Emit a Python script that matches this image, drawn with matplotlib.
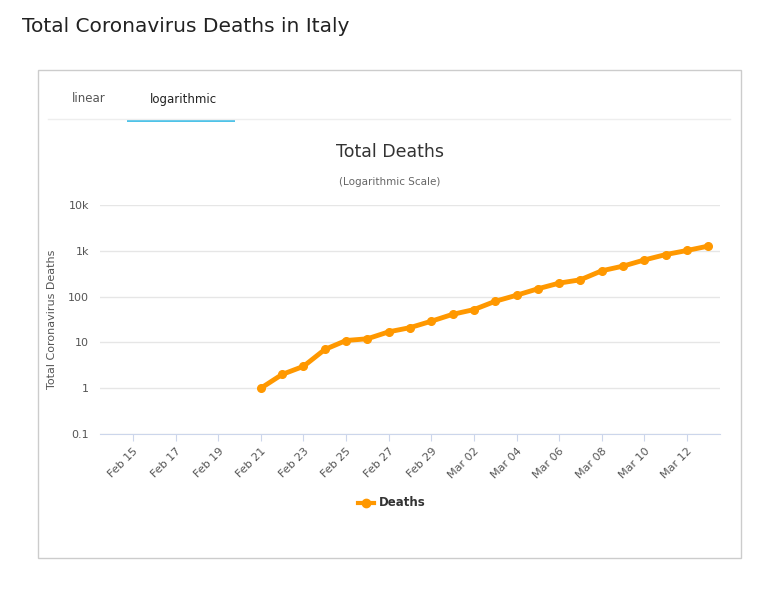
import numpy as np
import pandas as pd
import matplotlib.pyplot as plt
from matplotlib.patches import Rectangle
from matplotlib.lines import Line2D

deaths = [1, 2, 3, 7, 11, 12, 17, 21, 29, 41, 52, 79, 107, 148, 197, 233,
          366, 463, 631, 827, 1016, 1266]
dates = pd.date_range("2020-02-21", periods=len(deaths))
day0 = pd.Timestamp("2020-02-15")
x = np.array([(d - day0).days for d in dates])

W, H = 771, 606
fig = plt.figure(figsize=(W / 100, H / 100), dpi=100)
fig.patch.set_facecolor("white")

fig.text(22 / W, 1 - 27 / H, "Total Coronavirus Deaths in Italy", fontsize=14.5,
         color="#222222", va="center", ha="left")
fig.patches.append(Rectangle((38 / W, 1 - 558 / H), 703 / W, 488 / H, transform=fig.transFigure,
                             fill=False, edgecolor="#cccccc", lw=1))
fig.text(89 / W, 1 - 99 / H, "linear", fontsize=8.5, color="#555555", ha="center", va="center")
fig.text(183 / W, 1 - 99 / H, "logarithmic", fontsize=8.5, color="#222222", ha="center", va="center")
fig.lines.append(Line2D([48 / W, 730 / W], [1 - 119 / H] * 2, transform=fig.transFigure,
                        color="#eeeeee", lw=1))
fig.patches.append(Rectangle((127 / W, 1 - 122 / H), 108 / W, 3 / H, transform=fig.transFigure,
                             facecolor="#4fc3e8", edgecolor="none"))
fig.text(390 / W, 1 - 152 / H, "Total Deaths", fontsize=12.5, color="#333333", ha="center", va="center")
fig.text(390 / W, 1 - 182 / H, "(Logarithmic Scale)", fontsize=7.5, color="#666666", ha="center", va="center")

ax = fig.add_axes([100 / W, 1 - 434 / H, 620 / W, 229 / H])
ax.plot(x, deaths, color="#ff9800", lw=3.5, marker="o", ms=5.5, solid_capstyle="round")
ax.set_yscale("log")
ax.set_ylim(0.1, 10000)
ax.set_xlim(-1.55, 27.55)
ax.set_yticks([0.1, 1, 10, 100, 1000, 10000])
ax.set_yticklabels(["0.1", "1", "10", "100", "1k", "10k"])
ax.minorticks_off()
ticks = np.arange(0, 28, 2)
ax.set_xticks(ticks)
ax.set_xticklabels([(day0 + pd.Timedelta(days=int(t))).strftime("%b %d") for t in ticks],
                   rotation=45, ha="right", rotation_mode="anchor")
ax.tick_params(axis="x", colors="#555555", labelsize=8, length=5, color="#ccd6eb")
ax.tick_params(axis="y", colors="#555555", labelsize=8, length=0, pad=8)
ax.grid(axis="y", color="#e6e6e6", lw=1)
for s in ["top", "right", "left"]:
    ax.spines[s].set_visible(False)
ax.spines["bottom"].set_color("#ccd6eb")
ax.set_ylabel("Total Coronavirus Deaths", fontsize=8, color="#555555", labelpad=8)

fig.lines.append(Line2D([358 / W, 374 / W], [1 - 503 / H] * 2, transform=fig.transFigure,
                        color="#ff9800", lw=3))
fig.lines.append(Line2D([366 / W], [1 - 503 / H], transform=fig.transFigure,
                        color="#ff9800", marker="o", ms=6))
fig.text(379 / W, 1 - 503 / H, "Deaths", fontsize=8.5, fontweight="bold", color="#333333", va="center")

fig.savefig("out.png", dpi=100)
